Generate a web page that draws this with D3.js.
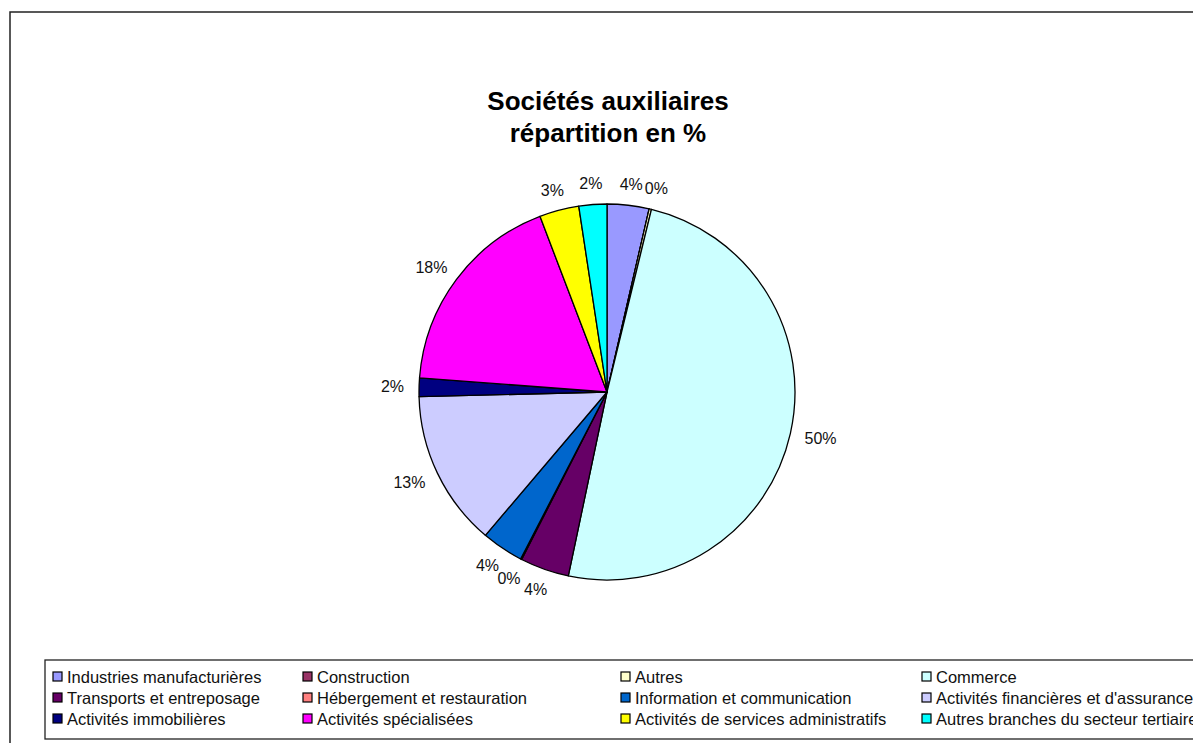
<!DOCTYPE html>
<html>
<head>
<meta charset="utf-8">
<script src="https://cdn.jsdelivr.net/npm/d3@7"></script>
<style>
	body { margin: 0; background: #fff; }
	svg { display: block; }
</style>
</head>
<body>
<div id="chart"></div>
<script>
var categories = [
	"Industries manufacturières", "Construction", "Autres", "Commerce",
	"Transports et entreposage", "Hébergement et restauration", "Information et communication", "Activités financières et d'assurance",
	"Activités immobilières", "Activités spécialisées", "Activités de services administratifs", "Autres branches du secteur tertiaire"
];
var shares = [3.6, 0.0, 0.2, 49.5, 4.2, 0.1, 3.6, 13.4, 1.6, 18.0, 3.4, 2.4];
var colors = [
	"#9999FF", "#993366", "#FFFFCC", "#CCFFFF",
	"#660066", "#FF8080", "#0066CC", "#CCCCFF",
	"#000080", "#FF00FF", "#FFFF00", "#00FFFF"
];
var titleLines = ["Sociétés auxiliaires", "répartition en %"];

var width = 1193, height = 743;
var FONT = "'Liberation Sans', Arial, sans-serif";
var svg = d3.select("#chart").append("svg").attr("width", width).attr("height", height);

// outer chart frame (right and bottom sides fall outside the window)
svg.append("rect")
	.attr("x", 10).attr("y", 12)
	.attr("width", width + 20).attr("height", height + 20)
	.style("fill", "none").style("stroke", "#222").style("stroke-width", 1.5);

// title
svg.append("text")
	.attr("x", 608).attr("y", 110)
	.style("font-family", FONT)
	.style("font-size", "26px").style("font-weight", 700)
	.style("text-anchor", "middle")
	.selectAll("tspan").data(titleLines).enter().append("tspan")
	.attr("x", 608).attr("dy", (d, i) => i ? 32 : 0)
	.text(d => d);

var CX = 607, CY = 392, R = 188;
var data = categories.map((c, i) => ({ name: c, value: shares[i], color: colors[i] }));

var pie = d3.pie().sort(null).value(d => d.value).startAngle(0).endAngle(2 * Math.PI);
var arc = d3.arc().innerRadius(0).outerRadius(R);
var LR = 203; // anchor radius for the labels

var g = svg.append("g").attr("transform", `translate(${ CX },${ CY })`);
var arcs = pie(data);

g.selectAll(".slice")
	.data(arcs)
	.enter()
	.append("path")
	.attr("class", "slice")
	.attr("d", arc)
	.style("fill", d => d.data.color)
	.style("stroke", "#000")
	.style("stroke-width", 1.3)
	.style("stroke-linejoin", "round");

// labels sit outside the pie, pushed away by half their box
// (an empty slice shares its label spot with its neighbour, so skip it)
g.selectAll(".lbl")
	.data(arcs.filter(d => d.data.value > 0))
	.enter()
	.append("text")
	.attr("class", "lbl")
	.attr("dy", "0.35em")
	.style("font-family", FONT)
	.style("font-size", "16px")
	.style("fill", "#111")
	.style("text-anchor", "middle")
	.text(d => Math.round(d.data.value) + "%")
	.each(function(d) {
		let a = (d.startAngle + d.endAngle) / 2;
		let w = this.getComputedTextLength();
		let h = 12;
		let x = Math.sin(a) * LR + Math.sin(a) * w / 2;
		let y = -Math.cos(a) * LR - Math.cos(a) * h / 2;
		d3.select(this).attr("x", x).attr("y", y);
	});

// legend
var legend = svg.append("g");
legend.append("rect")
	.attr("x", 45).attr("y", 660)
	.attr("width", 1200).attr("height", 79)
	.style("fill", "#fff").style("stroke", "#222").style("stroke-width", 1.3);

var colX = [53, 303, 621, 922];
var rowY = [677, 698, 719];

var items = legend.selectAll(".item")
	.data(data)
	.enter()
	.append("g")
	.attr("class", "item")
	.attr("transform", (d, i) => `translate(${ colX[i % 4] },${ rowY[Math.floor(i / 4)] })`);

items.append("rect")
	.attr("x", 0).attr("y", -5)
	.attr("width", 9).attr("height", 9)
	.style("fill", d => d.color)
	.style("stroke", "#000").style("stroke-width", 1.2);

items.append("text")
	.attr("x", 14).attr("y", 0).attr("dy", "0.35em")
	.style("font-family", FONT)
	.style("font-size", "16.5px")
	.style("fill", "#111")
	.text(d => d.name);
</script>
</body>
</html>
